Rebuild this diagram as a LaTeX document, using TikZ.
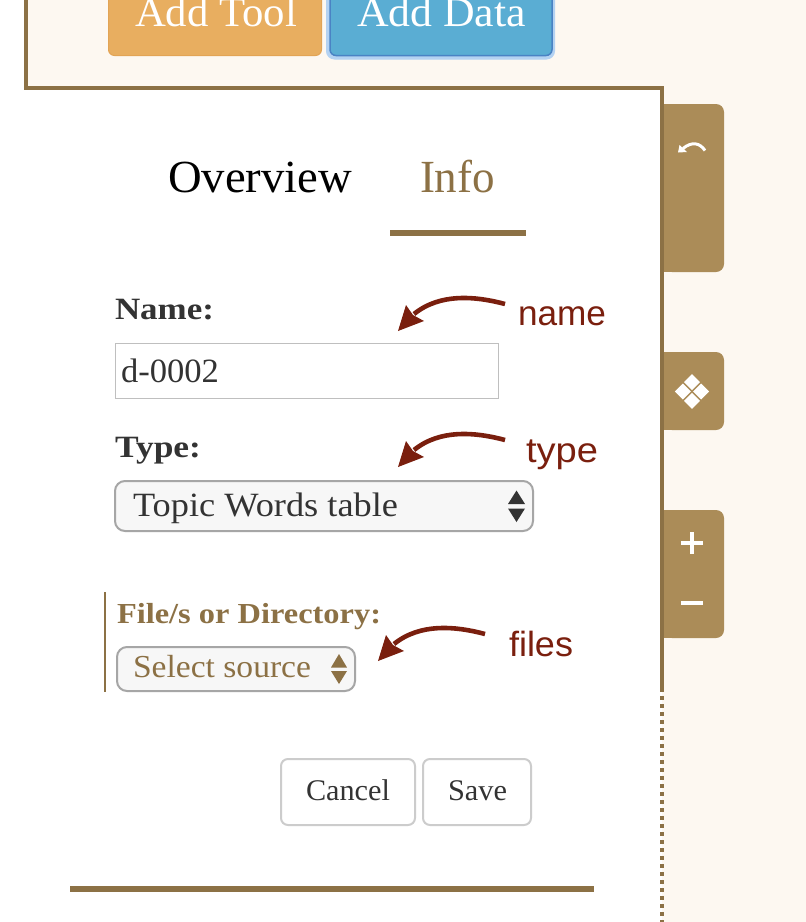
\documentclass[tikz,border=0pt]{standalone}
\usepackage{fontspec}
\usepackage{graphicx}
\setmainfont{Liberation Serif}
\newfontfamily\annotfont{Liberation Sans}
\definecolor{pagebg}{HTML}{FDF8F1}
\definecolor{frame}{HTML}{8C7145}
\definecolor{sidebtn}{HTML}{AB8C58}
\definecolor{toolbtn}{HTML}{E8AE60}
\definecolor{toolline}{HTML}{E2A455}
\definecolor{databtn}{HTML}{5AADD3}
\definecolor{dataline}{HTML}{4A83C4}
\definecolor{dataglow}{HTML}{B4D2F2}
\definecolor{annot}{HTML}{7A1F0E}
\definecolor{inktext}{HTML}{333333}
\newcommand{\fsz}[1]{\fontsize{#1}{#1}\selectfont}
\newcommand{\fitw}[2]{\resizebox{#1pt}{\height}{#2}}
\newcommand{\annothead}[1]{\fill[annot] (#1) -- ++(8,-26) -- ++(7,10) -- ++(11,6) -- cycle;}
\tikzset{
  x=1pt,y=-1pt,
  txt/.style={anchor=base west,inner sep=0pt,outer sep=0pt},
  sidepanel/.style={fill=sidebtn,rounded corners=8pt},
  annotstem/.style={draw=annot,line width=4.6pt},
  annotlabel/.style={txt,text=annot,font=\annotfont\fsz{35}},
  plainbtn/.style={draw=black!20,line width=2pt,fill=white,rounded corners=7pt},
  selectbox/.style={draw=black!35,line width=2pt,fill=black!3,rounded corners=10pt},
  glyph/.style={fill=white}
}
\begin{document}
\begin{tikzpicture}
\clip (0,0) rectangle (806,922);
% backgrounds
\fill[white] (0,0) rectangle (806,922);
\fill[pagebg] (26,0) rectangle (806,88);
\fill[pagebg] (662,88) rectangle (806,922);
% top buttons
\draw[toolline,fill=toolbtn,line width=1pt,rounded corners=6pt] (108.5,-12) rectangle (321.5,55.5);
\draw[dataglow,fill=dataglow,line width=1pt,rounded corners=8pt] (326.5,-12) rectangle (554.5,59);
\draw[dataline,fill=databtn,line width=1.5pt,rounded corners=6pt] (330,-12) rectangle (552,55.5);
\node[txt,text=white] (addtool) at (135,26) {\fsz{42}\fitw{162}{Add Tool}};
\node[txt,text=white] (adddata) at (357,26) {\fsz{42}\fitw{169}{Add Data}};
% frame
\fill[frame] (24,0) rectangle (28,90);
\fill[frame] (24,86) rectangle (664,90);
\fill[frame] (660,86) rectangle (664,692);
\draw[frame,line width=4pt,dash pattern=on 4pt off 4pt] (662,696) -- (662,922);
% side panels
\path[sidepanel] (664,104) -- (724,104) -- (724,272) -- (664,272) -- cycle;
\fill[sidebtn] (664,104) rectangle (672,272);
\path[sidepanel] (664,352) -- (724,352) -- (724,430) -- (664,430) -- cycle;
\fill[sidebtn] (664,352) rectangle (672,430);
\path[sidepanel] (664,510) -- (724,510) -- (724,638) -- (664,638) -- cycle;
\fill[sidebtn] (664,510) rectangle (672,638);
% undo icon
\draw[white,line width=3pt] (705,150.5) .. controls (700,143) and (692,141) .. (683,148.5);
\fill[white] (678,152.5) -- (679.5,145) -- (687,152) -- cycle;
% move icon
\foreach \cx/\cy in {692/382.2,682.8/391.5,701.2/391.5,692/400.8}
  \fill[glyph] (\cx-8,\cy) -- (\cx,\cy-8) -- (\cx+8,\cy) -- (\cx,\cy+8) -- cycle;
% zoom icons
\fill[glyph] (681,541) rectangle (703,545);
\fill[glyph] (690,532) rectangle (694,554);
\fill[glyph] (681,601) rectangle (703,605);
% tabs
\node[txt,text=black] (overview) at (168,192) {\fsz{46}\fitw{184}{Overview}};
\node[txt,text=frame] (info) at (420,192) {\fsz{46}\fitw{75}{Info}};
\fill[frame] (390,230) rectangle (526,236);
% form
\node[txt,text=inktext] (namelbl) at (115,319) {\fsz{31}\fitw{99}{\textbf{Name:}}};
\draw[black!25,line width=1pt,fill=white] (115.5,343.5) rectangle (498.5,398.5);
\node[txt,text=inktext] (nameval) at (121,382) {\fsz{34}\fitw{98}{d-0002}};
\node[txt,text=inktext] (typelbl) at (115,457) {\fsz{31}\fitw{86}{\textbf{Type:}}};
\draw[selectbox] (115,481) rectangle (533,531);
\node[txt,text=inktext] (typeval) at (133,516) {\fsz{34}\fitw{265}{Topic Words table}};
\fill[inktext] (516.5,490.5) -- (525,504) -- (508,504) -- cycle;
\fill[inktext] (508,508.5) -- (525,508.5) -- (516.5,522) -- cycle;
\fill[frame] (104,592) rectangle (105.5,692);
\node[txt,text=frame] (filelbl) at (117,623) {\fsz{29}\fitw{264}{\textbf{File/s or Directory:}}};
\draw[selectbox] (117,647) rectangle (355,691);
\node[txt,text=frame] (fileval) at (133,677) {\fsz{32}\fitw{178}{Select source}};
\fill[frame] (339,654) -- (347,667.5) -- (331,667.5) -- cycle;
\fill[frame] (331,671) -- (347,671) -- (339,684) -- cycle;
% buttons
\draw[plainbtn] (281,759) rectangle (415,825);
\node[txt,text=inktext] (cancel) at (306,800) {\fsz{30}\fitw{84}{Cancel}};
\draw[plainbtn] (423,759) rectangle (531,825);
\node[txt,text=inktext] (save) at (448,800) {\fsz{30}\fitw{59}{Save}};
\fill[frame] (70,886) rectangle (594,892);
% annotations
\node[annotlabel] (nameann) at (518,325) {\fitw{88}{name}};
\node[annotlabel] (typeann) at (526,462) {\fitw{72}{type}};
\node[annotlabel] (filesann) at (509,656) {\fitw{64}{files}};
\coordinate (nameS) at (505,304);
\coordinate (nameN) at (414,314);
\coordinate (nameT) at (398,331);
\coordinate (typeS) at (505,440);
\coordinate (typeN) at (414,450);
\coordinate (typeT) at (398,467);
\coordinate (filesS) at (485,634);
\coordinate (filesN) at (394,644);
\coordinate (filesT) at (378,661);
\draw[annotstem] (nameS) .. controls (475,296) and (440,293) .. (nameN);
\annothead{nameT}
\draw[annotstem] (typeS) .. controls (475,432) and (440,429) .. (typeN);
\annothead{typeT}
\draw[annotstem] (filesS) .. controls (455,626) and (420,623) .. (filesN);
\annothead{filesT}
\end{tikzpicture}
\end{document}
